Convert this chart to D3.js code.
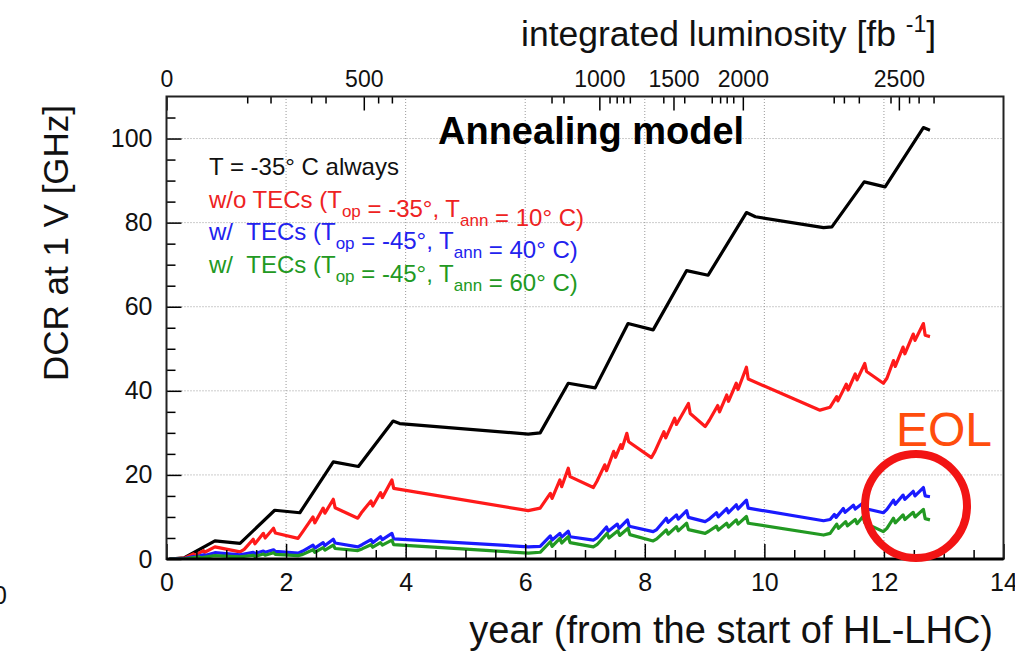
<!DOCTYPE html>
<html>
<head>
<meta charset="utf-8">
<script src="https://cdn.jsdelivr.net/npm/d3@7/dist/d3.min.js"></script>
<style>
body { margin: 0; background: #fff; }
svg text { font-family: "Liberation Sans", Arial, Helvetica, sans-serif; }
</style>
</head>
<body>
<svg id="chart" width="1015" height="654"></svg>
<script>
// axis ticks
var xTicks = [0, 2, 4, 6, 8, 10, 12, 14];
var yTicks = [0, 20, 40, 60, 80, 100];
var lumiTicks = [0, 500, 1000, 1500, 2000, 2500];
var lumiTickYears = [0, 3.30, 7.24, 8.48, 9.64, 12.25];
var lumiMinorYears = [1.35, 1.74, 2.42, 2.66, 3.54, 3.77, 6.44, 6.64, 7.41, 7.53, 7.64, 7.75,
  8.31, 8.66, 9.12, 9.26, 9.37, 9.48, 11.16, 11.33, 11.58, 12.11, 12.42, 12.58, 12.83];

// T = -35 C always
var blackPts = [[0.05,0],[0.3,0.3],[0.81,4.3],[1.23,3.7],[1.81,11.6],[2.23,11.0],[2.79,23.1],
  [3.21,22.0],[3.79,32.8],[3.9,32.2],[6.05,29.7],[6.25,30.0],[6.72,41.8],[7.17,40.7],[7.72,56.0],
  [8.14,54.5],[8.70,68.6],[9.06,67.5],[9.70,82.4],[9.85,81.4],[10.99,78.8],[11.13,79.0],
  [11.67,89.7],[12.02,88.5],[12.66,102.6],[12.77,102.0]];

// w/o TECs, Tann = 10 C
var redPts = [[0.05,0],[0.3,0.2],[0.45,1.2],[0.47,0.8],[0.62,2.0],[0.64,1.6],[0.81,2.9],[1.23,1.7],
  [1.30,2.3],[1.45,4.7],[1.48,3.6],[1.62,6.1],[1.65,5.0],[1.79,7.3],[1.82,6.2],[2.20,4.9],
  [2.28,6.5],[2.45,10.0],[2.48,8.6],[2.62,12.1],[2.65,10.9],[2.79,14.2],[2.82,12.2],[3.20,9.7],
  [3.27,11.2],[3.42,13.8],[3.45,12.6],[3.58,15.8],[3.61,14.6],[3.77,18.8],[3.80,16.8],[6.05,11.5],
  [6.25,12.1],[6.42,15.6],[6.45,14.4],[6.58,18.8],[6.61,17.2],[6.72,21.6],[6.75,19.6],[7.14,17.0],
  [7.20,18.5],[7.33,22.4],[7.36,21.0],[7.48,25.6],[7.51,24.2],[7.60,27.2],[7.62,26.3],[7.70,29.9],
  [7.73,27.9],[8.11,24.1],[8.17,25.6],[8.32,30.3],[8.35,28.8],[8.50,33.5],[8.53,32.0],[8.73,37.0],
  [8.76,34.6],[9.01,31.5],[9.08,33.0],[9.22,36.5],[9.25,35.0],[9.37,39.0],[9.40,37.5],[9.53,41.8],
  [9.56,40.3],[9.70,45.6],[9.73,42.8],[10.93,35.4],[11.10,36.1],[11.21,38.6],[11.23,37.6],
  [11.37,41.6],[11.40,40.2],[11.52,44.0],[11.55,42.6],[11.68,46.5],[11.71,44.6],[11.99,41.8],
  [12.05,43.0],[12.16,47.2],[12.19,45.8],[12.32,50.4],[12.35,48.8],[12.49,53.5],[12.52,52.0],
  [12.66,56.0],[12.69,53.2],[12.77,52.9]];

// w/ TECs, Tann = 40 C
var bluePts = [[0.05,0],[0.3,0.1],[0.45,0.6],[0.47,0.4],[0.62,1.0],[0.64,0.8],[0.81,1.5],[1.23,1.0],
  [1.45,1.6],[1.48,1.3],[1.62,1.9],[1.65,1.6],[1.79,2.2],[1.82,1.8],[2.20,1.4],
  [2.28,1.9],[2.45,3.3],[2.48,2.6],[2.62,3.9],[2.65,3.2],[2.79,4.7],[2.82,3.8],[3.20,2.9],
  [3.27,3.4],[3.42,4.6],[3.45,3.9],[3.58,5.3],[3.61,4.6],[3.77,6.1],[3.80,4.8],[6.05,2.9],
  [6.25,3.0],[6.42,5.5],[6.45,4.5],[6.58,6.1],[6.61,5.2],[6.72,6.6],[6.75,5.3],[7.14,4.5],
  [7.20,5.0],[7.36,7.6],[7.39,6.6],[7.54,8.3],[7.57,7.3],[7.71,9.3],[7.74,7.8],[8.14,6.5],
  [8.20,7.0],[8.36,9.7],[8.39,8.7],[8.53,10.5],[8.56,9.5],[8.70,11.5],[8.73,9.9],[9.01,8.9],
  [9.07,9.4],[9.20,11.0],[9.23,10.0],[9.37,12.0],[9.40,11.0],[9.53,12.9],[9.56,11.9],[9.70,14.0],
  [9.73,12.1],[10.99,9.1],[11.10,9.4],[11.17,10.6],[11.20,9.9],[11.32,12.0],[11.35,11.1],
  [11.49,12.8],[11.52,11.9],[11.65,13.3],[11.68,12.0],[11.99,11.0],[12.05,11.8],[12.16,14.0],
  [12.19,13.0],[12.32,15.2],[12.35,14.2],[12.49,16.1],[12.52,15.0],[12.66,17.0],[12.69,15.0],
  [12.77,14.8]];

// w/ TECs, Tann = 60 C
var greenPts = [[0.05,0],[0.3,0.05],[0.55,0.5],[0.57,0.3],[0.81,0.8],[1.23,0.5],
  [1.45,0.9],[1.48,0.6],[1.62,1.2],[1.65,0.9],[1.79,1.5],[1.82,1.1],[2.20,0.8],
  [2.28,1.1],[2.45,2.2],[2.48,1.6],[2.62,2.7],[2.65,2.1],[2.79,3.3],[2.82,2.5],[3.20,2.0],
  [3.27,2.4],[3.42,3.4],[3.45,2.8],[3.58,3.9],[3.61,3.3],[3.77,4.5],[3.80,3.4],[6.05,1.4],
  [6.25,1.6],[6.42,4.1],[6.45,3.0],[6.58,4.9],[6.61,3.8],[6.72,5.3],[6.75,3.9],[7.14,2.9],
  [7.20,3.4],[7.37,6.1],[7.40,5.0],[7.55,6.7],[7.58,5.6],[7.72,7.3],[7.75,5.8],[8.14,4.3],
  [8.20,4.8],[8.36,6.9],[8.39,5.9],[8.53,7.7],[8.56,6.7],[8.70,8.5],[8.73,7.0],[9.01,6.1],
  [9.07,6.6],[9.20,7.8],[9.23,6.9],[9.37,8.5],[9.40,7.6],[9.53,9.3],[9.56,8.3],[9.70,10.1],
  [9.73,8.5],[10.99,5.7],[11.10,6.1],[11.21,8.3],[11.24,7.3],[11.36,8.9],[11.39,7.9],
  [11.52,9.4],[11.55,8.4],[11.65,10.1],[11.68,8.6],[11.99,6.5],[12.05,7.3],[12.16,9.7],
  [12.19,8.6],[12.32,10.5],[12.35,9.4],[12.49,11.1],[12.52,10.0],[12.66,11.8],[12.69,9.6],
  [12.77,9.3]];

var series = [
  { pts: blackPts, color: "#000000" },
  { pts: redPts, color: "#ff1a1a" },
  { pts: bluePts, color: "#1a1aff" },
  { pts: greenPts, color: "#229922" }
];

var svg = d3.select("#chart");

// set the ranges
var x = d3.scaleLinear().domain([0, 14]).range([166.5, 1003.5]);
var y = d3.scaleLinear().domain([0, 110]).range([559, 96.5]);
var lumi = d3.scaleLinear().domain(lumiTicks).range(lumiTickYears.map(function (d) { return x(d); }));

// dotted grid
var grid = svg.append("g").attr("stroke", "#999").attr("stroke-width", 1)
  .attr("stroke-dasharray", "1,2");
grid.selectAll(".gx").data(xTicks.slice(1, -1)).enter().append("line")
  .attr("x1", function (d) { return x(d); }).attr("x2", function (d) { return x(d); })
  .attr("y1", y(0)).attr("y2", y(110));
grid.selectAll(".gy").data(yTicks.slice(1)).enter().append("line")
  .attr("x1", x(0)).attr("x2", x(14))
  .attr("y1", function (d) { return y(d); }).attr("y2", function (d) { return y(d); });

// curves
var line = d3.line().x(function (d) { return x(d[0]); }).y(function (d) { return y(d[1]); });
svg.append("clipPath").attr("id", "clip").append("rect")
  .attr("x", x(0)).attr("y", y(110)).attr("width", x(14) - x(0)).attr("height", y(0) - y(110));
svg.append("g").attr("clip-path", "url(#clip)")
  .selectAll("path").data(series).enter().append("path")
  .attr("d", function (d) { return line(d.pts); })
  .attr("fill", "none")
  .attr("stroke", function (d) { return d.color; })
  .attr("stroke-width", 3.2)
  .attr("stroke-linejoin", "round");

// axes
function styleAxis(g, size) {
  g.select(".domain").remove();
  g.selectAll(".tick line").attr("stroke", "#000").attr("stroke-width", 1.5);
  g.selectAll("text").attr("font-size", size).attr("fill", "#111")
    .attr("font-family", "Liberation Sans, Arial, sans-serif");
}

// minor ticks
var minorX = x.ticks(28).filter(function (d) { return xTicks.indexOf(d) < 0; });
svg.append("g").attr("transform", "translate(0," + y(0) + ")")
  .call(d3.axisBottom(x).tickValues(minorX).tickSize(-9).tickFormat(""))
  .call(styleAxis, 25);
svg.append("g").attr("transform", "translate(0," + y(0) + ")")
  .call(d3.axisBottom(x).tickValues(xTicks).tickSize(-15).tickPadding(14).tickFormat(d3.format("d")))
  .call(styleAxis, 25);

var minorY = d3.range(5, 110, 5).filter(function (d) { return yTicks.indexOf(d) < 0; });
svg.append("g").attr("transform", "translate(" + x(0) + ",0)")
  .call(d3.axisLeft(y).tickValues(minorY).tickSize(-9).tickFormat(""))
  .call(styleAxis, 25);
svg.append("g").attr("transform", "translate(" + x(0) + ",0)")
  .call(d3.axisLeft(y).tickValues(yTicks).tickSize(-15).tickPadding(14).tickFormat(d3.format("d")))
  .call(styleAxis, 25);

// luminosity axis on top
svg.append("g").attr("transform", "translate(0," + y(110) + ")")
  .call(d3.axisTop(x).tickValues(lumiMinorYears).tickSize(-7).tickFormat(""))
  .call(styleAxis, 23);
svg.append("g").attr("transform", "translate(0," + y(110) + ")")
  .call(d3.axisTop(lumi).tickValues(lumiTicks).tickSize(-14).tickPadding(10).tickFormat(d3.format("d")))
  .call(styleAxis, 23);

// frame
svg.append("rect")
  .attr("x", x(0)).attr("y", y(110))
  .attr("width", x(14) - x(0)).attr("height", y(0) - y(110))
  .attr("fill", "none").attr("stroke", "#222").attr("stroke-width", 2);
svg.append("line").attr("x1", x(0)).attr("x2", x(14)).attr("y1", y(0)).attr("y2", y(0))
  .attr("stroke", "#000").attr("stroke-width", 3);

// axis titles
svg.append("text").attr("x", 993).attr("y", 643).attr("text-anchor", "end")
  .attr("font-size", 38).attr("fill", "#111").text("year (from the start of HL-LHC)");

svg.append("text").attr("transform", "translate(68,243) rotate(-90)").attr("text-anchor", "middle")
  .attr("font-size", 35).attr("fill", "#111").text("DCR at 1 V [GHz]");

var tt = svg.append("text").attr("x", 521).attr("y", 46).attr("font-size", 35.5).attr("fill", "#111");
tt.append("tspan").text("integrated luminosity [fb ");
tt.append("tspan").attr("font-size", 23).attr("dy", -14).text("-1");
tt.append("tspan").attr("dy", 14).text("]");

// title
svg.append("text").attr("x", 438).attr("y", 144).attr("font-size", 38).attr("font-weight", "bold")
  .attr("fill", "#000").text("Annealing model");

// legend
var legend = [
  { color: "#111", parts: [["T = -35\u00b0 C always", ""]] },
  { color: "#ee2222", parts: [["w/o TECs (T", "op"], [" = -35\u00b0, T", "ann"], [" = 10\u00b0 C)", ""]] },
  { color: "#2222ee", parts: [["w/\u00a0\u00a0TECs (T", "op"], [" = -45\u00b0, T", "ann"], [" = 40\u00b0 C)", ""]] },
  { color: "#229922", parts: [["w/\u00a0\u00a0TECs (T", "op"], [" = -45\u00b0, T", "ann"], [" = 60\u00b0 C)", ""]] }
];
legend.forEach(function (row, i) {
  var t = svg.append("text").attr("x", 209).attr("y", 175 + i * 32.5)
    .attr("font-size", 24).attr("fill", row.color);
  row.parts.forEach(function (p) {
    t.append("tspan").attr("dy", 0).text(p[0]);
    if (p[1]) {
      t.append("tspan").attr("font-size", 17).attr("dy", 9).text(p[1]);
      t.append("tspan").attr("dy", -9).text("");
    }
  });
});

// EOL mark
svg.append("text").attr("x", 896).attr("y", 446).attr("font-size", 48)
  .attr("fill", "#ff4d0d").text("EOL");
svg.append("ellipse").attr("cx", 916).attr("cy", 506).attr("rx", 51).attr("ry", 52)
  .attr("fill", "none").attr("stroke", "#f21414").attr("stroke-width", 8);

// cut-off label at the left edge
svg.append("text").attr("x", -7).attr("y", 604).attr("font-size", 25).attr("fill", "#111").text("0");
</script>
</body>
</html>
